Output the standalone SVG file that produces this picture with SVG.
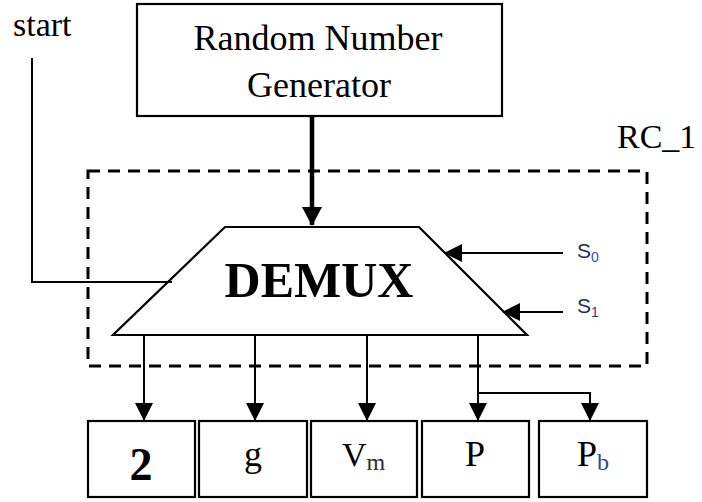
<svg xmlns="http://www.w3.org/2000/svg" width="702" height="502" viewBox="0 0 702 502">
  <style>
    .serif { font-family: "Liberation Serif", "Times New Roman", serif; fill: #000; }
    .sans { font-family: "Liberation Sans", Arial, sans-serif; }
    .box { fill: #fff; stroke: #000; stroke-width: 2.2; }
    .wire { fill: none; stroke: #000; stroke-width: 2; }
  </style>
  <defs>
    <marker id="head" viewBox="0 0 18 18" refX="17" refY="9" markerWidth="18" markerHeight="18" markerUnits="userSpaceOnUse" orient="auto">
      <path d="M0,0 L18,9 L0,18 Z" fill="#000"/>
    </marker>
    <marker id="headBig" viewBox="0 0 19 20" refX="18" refY="10" markerWidth="19" markerHeight="20" markerUnits="userSpaceOnUse" orient="auto">
      <path d="M0,0 L19,10 L0,20 Z" fill="#000"/>
    </marker>
  </defs>

  <!-- reconfigurable cell boundary -->
  <g id="rc1">
    <rect x="88" y="171" width="559" height="195" fill="none" stroke="#000" stroke-width="3" stroke-dasharray="12 8"/>
    <text class="serif" x="617" y="148" font-size="34">RC_1</text>
  </g>

  <g id="start">
    <text class="serif" x="13" y="36" font-size="34">start</text>
  </g>

  <g id="rng">
    <rect class="box" x="137" y="4" width="365" height="112"/>
    <text class="serif" x="318" y="50" font-size="36" text-anchor="middle">Random Number</text>
    <text class="serif" x="319" y="97" font-size="36" text-anchor="middle">Generator</text>
  </g>

  <g id="demux">
    <path d="M225,227 L419,227 L527,335 L113,335 Z" fill="#fff" stroke="#000" stroke-width="2.2" stroke-linejoin="miter"/>
    <text class="serif" x="319" y="297" font-size="50" font-weight="bold" text-anchor="middle">DEMUX</text>
  </g>

  <g id="sel">
    <text class="sans" x="577" y="258" font-size="21" fill="#1e2a5e">S<tspan font-size="14" dy="4" fill="#2f4f9f">0</tspan></text>
    <text class="sans" x="577" y="313" font-size="21" fill="#1e2a5e">S<tspan font-size="14" dy="4" fill="#5a2a6a">1</tspan></text>
  </g>

  <g id="out-2">
    <rect class="box" x="88" y="421" width="107" height="76"/>
    <text class="serif" x="141" y="480" font-size="46" font-weight="bold" text-anchor="middle">2</text>
  </g>
  <g id="out-g">
    <rect class="box" x="199" y="421" width="108" height="76"/>
    <text class="serif" x="253" y="466" font-size="36" text-anchor="middle">g</text>
  </g>
  <g id="out-vm">
    <rect class="box" x="311" y="421" width="106" height="76"/>
    <text class="serif" x="342" y="466" font-size="34">V<tspan font-size="24" dy="4" fill="#2a2a3a">m</tspan></text>
  </g>
  <g id="out-p">
    <rect class="box" x="422" y="421" width="107" height="76"/>
    <text class="serif" x="475" y="466" font-size="36" text-anchor="middle">P</text>
  </g>
  <g id="out-pb">
    <rect class="box" x="539" y="421" width="108" height="76"/>
    <text class="serif" x="577" y="466" font-size="36">P<tspan font-size="24" dy="4" fill="#2a4a8a">b</tspan></text>
  </g>

  <g id="connectors">
    <!-- random number feed -->
    <line x1="312" y1="116" x2="312" y2="225" stroke="#000" stroke-width="4.5" marker-end="url(#headBig)"/>
    <!-- start signal -->
    <polyline class="wire" points="32,58 32,282 172,282"/>
    <!-- select lines -->
    <line class="wire" x1="563" y1="253" x2="445" y2="253" marker-end="url(#head)"/>
    <line class="wire" x1="563" y1="312" x2="503" y2="312" marker-end="url(#head)"/>
    <!-- demux outputs -->
    <line class="wire" x1="144" y1="335" x2="144" y2="420" marker-end="url(#head)"/>
    <line class="wire" x1="255" y1="335" x2="255" y2="420" marker-end="url(#head)"/>
    <line class="wire" x1="367" y1="335" x2="367" y2="420" marker-end="url(#head)"/>
    <line class="wire" x1="478" y1="335" x2="478" y2="420" marker-end="url(#head)"/>
    <polyline class="wire" points="478,393 590,393 590,420" marker-end="url(#head)"/>
  </g>
</svg>
